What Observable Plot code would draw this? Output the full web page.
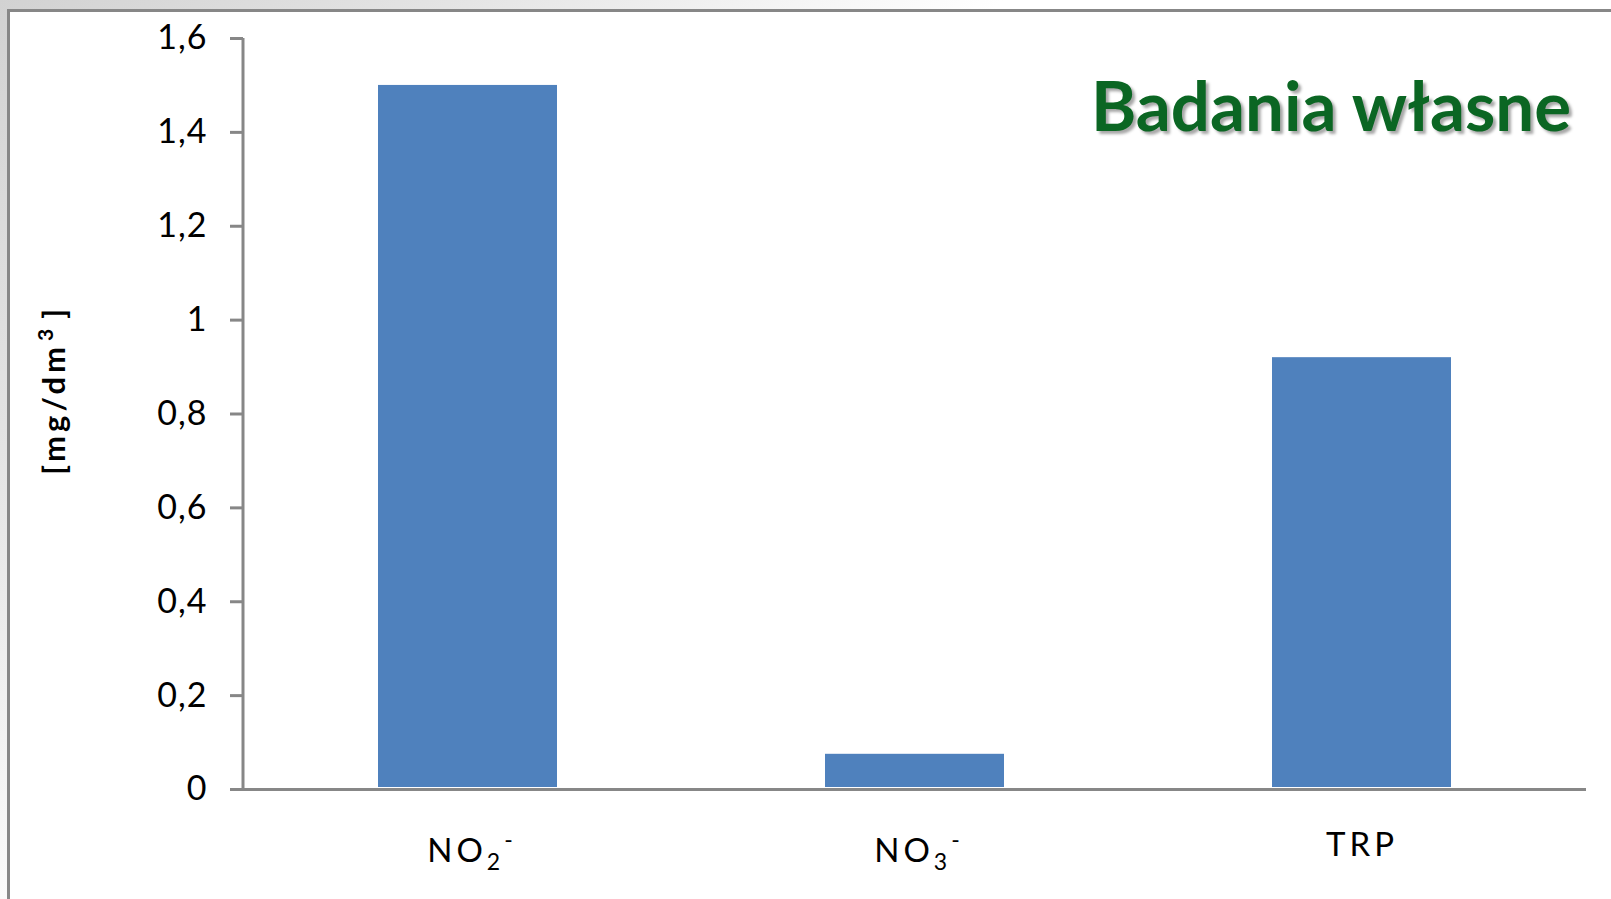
<!DOCTYPE html>
<html lang="pl">
<head>
<meta charset="utf-8">
<script src="https://cdn.jsdelivr.net/npm/d3@7"></script>
<script src="https://cdn.jsdelivr.net/npm/@observablehq/plot@0.6"></script>
<style>
  html, body { margin: 0; padding: 0; background: #fff; }
  #slide {
    position: relative;
    width: 1611px;
    height: 899px;
    overflow: hidden;
    background: linear-gradient(135deg, #d2d2d2 0%, #e4e4e4 18%, #ffffff 40%);
  }
  #panel {
    position: absolute;
    left: 7px;
    top: 9px;
    width: 1700px;
    height: 1000px;
    background: #fff;
    border: 3px solid #878787;
    box-sizing: border-box;
  }
  #chart { position: absolute; left: 0; top: 0; }
  #title {
    position: absolute;
    right: 40px;
    top: 63px;
    font-family: Lato, "Open Sans", sans-serif;
    font-weight: 700;
    font-size: 69px;
    color: #0b6623;
    text-shadow: 3px 3px 3px rgba(0, 0, 0, 0.35);
    white-space: nowrap;
  }
  #ylabel {
    position: absolute;
    left: 52px;
    top: 390px;
    transform: translate(-50%, -50%) rotate(-90deg);
    font-family: Lato, "Open Sans", sans-serif;
    font-weight: 700;
    font-size: 31px;
    letter-spacing: 4px;
    white-space: nowrap;
    color: #000;
  }
  #ylabel sup { font-size: 21px; vertical-align: 12px; margin-left: 2px; margin-right: 6px; }
</style>
</head>
<body>
<div id="slide">
  <div id="panel"></div>
  <div id="chart"></div>
  <div id="ylabel">[mg/dm<sup>3</sup>]</div>
  <div id="title">Badania własne</div>
</div>
<script>
// Measured concentrations
const categories = ["NO₂⁻", "NO₃⁻", "TRP"];
const values = [1.5, 0.075, 0.92];
const yTicks = [0, 0.2, 0.4, 0.6, 0.8, 1, 1.2, 1.4, 1.6];

const data = categories.map((category, i) => ({category, value: values[i]}));

const axisGray = "#878787";

// Vertical axis line along the left edge of the plotting frame
const yAxisLine = (index, scales, values, dimensions) => {
  const {marginLeft, marginTop, height, marginBottom} = dimensions;
  return d3.create("svg:line")
    .attr("x1", marginLeft).attr("x2", marginLeft)
    .attr("y1", marginTop).attr("y2", height - marginBottom)
    .attr("stroke", axisGray)
    .attr("stroke-width", 3)
    .node();
};

const chart = Plot.plot({
  width: 1611,
  height: 899,
  marginLeft: 243,
  marginRight: 25,
  marginTop: 38,
  marginBottom: 110,
  style: {background: "transparent", fontFamily: "Lato, 'Open Sans', sans-serif", color: "#000", overflow: "visible"},
  x: {domain: categories, paddingInner: 0.6, paddingOuter: 0.3, label: null},
  y: {domain: [0, 1.6], label: null},
  marks: [
    Plot.barY(data, {x: "category", y: "value", fill: "#4f81bd", insetBottom: 2}),
    Plot.axisY({
      ticks: yTicks,
      tickFormat: d => String(d).replace(".", ","),
      tickSize: 13,
      tickPadding: 23,
      fontSize: 34,
      stroke: axisGray,
      strokeWidth: 3,
      strokeOpacity: 1,
      fill: "#000",
      label: null
    }),
    Plot.axisX({tickSize: 0, tickPadding: 43, fontSize: 33, fill: "#000", label: null}),
    Plot.ruleY([0], {stroke: axisGray, strokeWidth: 3}),
    yAxisLine
  ]
});

document.getElementById("chart").append(chart);

// Tick labels on the value axis are spaced a little wider
d3.select(chart).selectAll('g[aria-label="y-axis tick label"] text').attr("letter-spacing", "1px");

// Ion charges and subscripts are typeset as shifted, smaller tspans
const subs = "₀₁₂₃₄₅₆₇₈₉";
d3.select(chart).selectAll('g[aria-label="x-axis tick label"] text').each(function () {
  const label = this.textContent;
  const hasScripts = /[₀-₉⁻]/.test(label);
  const text = d3.select(this).text("").attr("letter-spacing", "4px");
  if (hasScripts) text.attr("dx", 4);
  let shift = hasScripts ? 6 : 0;  // scripted labels sit on a lower baseline
  let offset = 0;
  for (const ch of label) {
    let target = shift, s = ch, small = false;
    if (subs.includes(ch)) { s = String(subs.indexOf(ch)); target = shift + 8; small = true; }
    else if (ch === "⁻") { s = "-"; target = shift - 14; small = true; }
    const t = text.append("tspan").text(s).attr("dy", target - offset);
    if (small) t.attr("font-size", 23);
    offset = target;
  }
});
</script>
</body>
</html>
